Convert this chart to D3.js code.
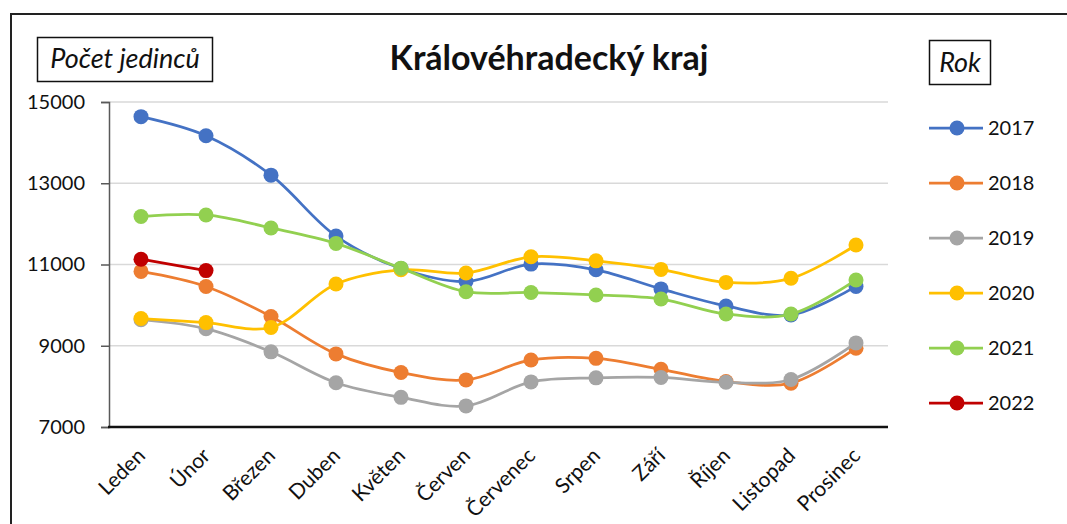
<!DOCTYPE html>
<html>
<head>
<meta charset="utf-8">
<script src="https://cdn.jsdelivr.net/npm/d3@7"></script>
<style>
  body { margin: 0; background: #fff; }
  svg { font-family: Lato, "Open Sans", sans-serif; }
</style>
</head>
<body>
<svg id="chart" width="1067" height="524"></svg>
<script>
// data
var months = ["Leden", "Únor", "Březen", "Duben", "Květen", "Červen", "Červenec", "Srpen", "Září", "Říjen", "Listopad", "Prosinec"];
var years = ["2017", "2018", "2019", "2020", "2021", "2022"];
var colors = ["#4472c4", "#ed7d31", "#a5a5a5", "#ffc000", "#92d050", "#c00000"];

var v2017 = [14640, 14170, 13200, 11700, 10900, 10580, 11010, 10870, 10400, 9980, 9760, 10460];
var v2018 = [10830, 10460, 9720, 8800, 8340, 8160, 8650, 8690, 8420, 8120, 8080, 8940];
var v2019 = [9640, 9420, 8850, 8090, 7730, 7520, 8110, 8210, 8220, 8100, 8170, 9070];
var v2020 = [9670, 9570, 9450, 10520, 10870, 10790, 11190, 11090, 10880, 10560, 10660, 11480];
var v2021 = [12180, 12220, 11900, 11520, 10910, 10330, 10310, 10250, 10150, 9780, 9780, 10620];
var v2022 = [11130, 10850];
var seriesValues = [v2017, v2018, v2019, v2020, v2021, v2022];

var yTicks = [7000, 9000, 11000, 13000, 15000];

var svg = d3.select("#chart");

// outer frame (runs off the right and bottom edge)
svg.append("path")
   .attr("d", "M11,530 L11,14 L1070,14")
   .attr("fill", "none")
   .attr("stroke", "#222")
   .attr("stroke-width", 2);

var xScale = d3.scalePoint()
               .domain(months)
               .range([108.5, 888.5])
               .padding(0.5);

var yScale = d3.scaleLinear()
               .domain([7000, 15000])
               .range([427, 102]);

// gridlines
svg.append("g")
   .selectAll("line")
   .data(yTicks.slice(1))
   .enter().append("line")
   .attr("x1", 109)
   .attr("x2", 888)
   .attr("y1", function(d){ return yScale(d); })
   .attr("y2", function(d){ return yScale(d); })
   .attr("stroke", "#d9d9d9")
   .attr("stroke-width", 1.5);

// y axis
var yAxis = d3.axisLeft(yScale)
              .tickValues(yTicks)
              .tickFormat(d3.format("d"))
              .tickSize(8)
              .tickPadding(16);

var yG = svg.append("g")
            .attr("transform", "translate(109,0)")
            .call(yAxis);
yG.select(".domain").attr("stroke", "#595959").attr("stroke-width", 1.5);
yG.selectAll(".tick line").attr("stroke", "#595959").attr("stroke-width", 1.5);
yG.selectAll("text")
  .attr("font-size", 20)
  .attr("font-family", "Lato, sans-serif")
  .attr("fill", "#111");

// x axis
var xAxis = d3.axisBottom(xScale).tickSize(0).tickPadding(0);
var xG = svg.append("g")
            .attr("transform", "translate(0,427)")
            .call(xAxis);
xG.select(".domain")
  .attr("d", "M108,0H888")
  .attr("stroke", "#111")
  .attr("stroke-width", 2.5);
xG.selectAll("text")
  .attr("font-size", 21)
  .attr("font-family", "Lato, sans-serif")
  .attr("fill", "#111")
  .attr("text-anchor", "end")
  .attr("dy", null)
  .attr("y", 0)
  .attr("transform", "translate(5,30) rotate(-45)");

// lines (later years drawn on top)
var line = d3.line()
             .x(function(d, i){ return xScale(months[i]); })
             .y(function(d){ return yScale(d); })
             .curve(d3.curveCatmullRom.alpha(0.5));

var plot = svg.append("g");
seriesValues.forEach(function(vals, k) {
  var g = plot.append("g");
  g.append("path")
   .datum(vals)
   .attr("d", line)
   .attr("fill", "none")
   .attr("stroke", colors[k])
   .attr("stroke-width", 2.75);
  g.selectAll("circle")
   .data(vals)
   .enter().append("circle")
   .attr("cx", function(d, i){ return xScale(months[i]); })
   .attr("cy", function(d){ return yScale(d); })
   .attr("r", 7.5)
   .attr("fill", colors[k]);
});

// title
svg.append("text")
   .attr("x", 549)
   .attr("y", 70)
   .attr("text-anchor", "middle")
   .attr("font-size", 34)
   .attr("font-weight", "bold")
   .attr("fill", "#111")
   .text("Královéhradecký kraj");

// y axis title in a box
svg.append("rect")
   .attr("x", 37.5).attr("y", 37.5)
   .attr("width", 175).attr("height", 44)
   .attr("fill", "none").attr("stroke", "#111").attr("stroke-width", 1.5);
svg.append("text")
   .attr("x", 125).attr("y", 68)
   .attr("text-anchor", "middle")
   .attr("font-size", 27)
   .attr("font-style", "italic")
   .attr("fill", "#111")
   .text("Počet jedinců");

// legend
svg.append("rect")
   .attr("x", 929.5).attr("y", 40.5)
   .attr("width", 61).attr("height", 44)
   .attr("fill", "none").attr("stroke", "#111").attr("stroke-width", 1.5);
svg.append("text")
   .attr("x", 960).attr("y", 72)
   .attr("text-anchor", "middle")
   .attr("font-size", 27)
   .attr("font-style", "italic")
   .attr("fill", "#111")
   .text("Rok");

var legend = svg.append("g")
                .selectAll("g")
                .data(years)
                .enter().append("g")
                .attr("transform", function(d, i){ return "translate(0," + (128 + i * 55) + ")"; });
legend.append("line")
      .attr("x1", 929).attr("x2", 983)
      .attr("stroke", function(d, i){ return colors[i]; })
      .attr("stroke-width", 2.75);
legend.append("circle")
      .attr("cx", 957).attr("r", 7.5)
      .attr("fill", function(d, i){ return colors[i]; });
legend.append("text")
      .attr("x", 988).attr("y", 7)
      .attr("font-size", 20)
      .attr("fill", "#111")
      .text(function(d){ return d; });
</script>
</body>
</html>
